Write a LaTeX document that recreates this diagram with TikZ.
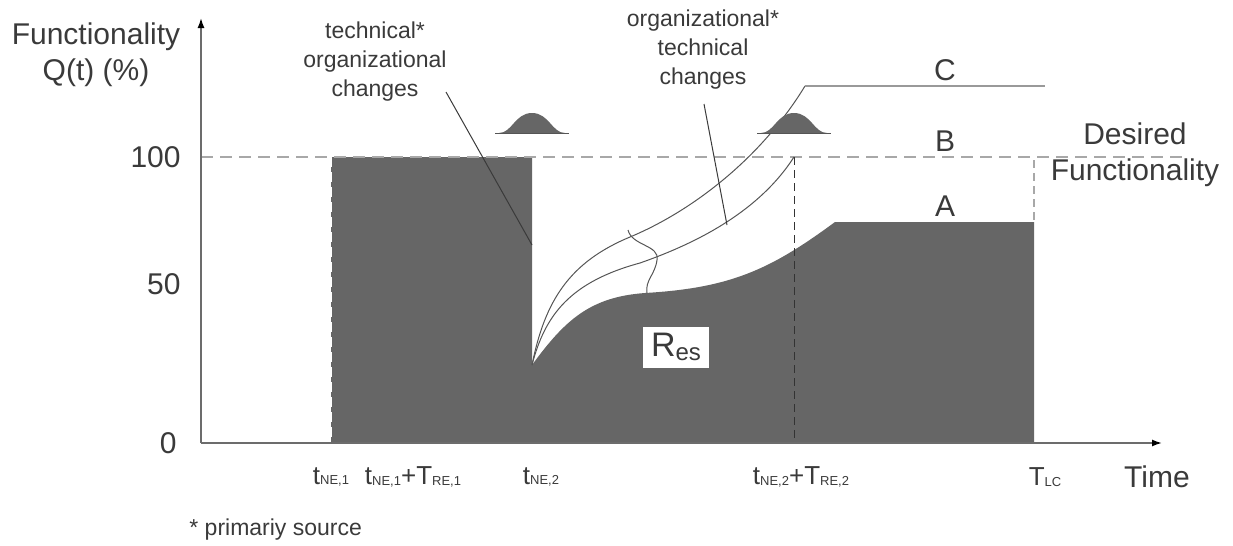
\documentclass[tikz,border=0pt]{standalone}
\usepackage{fontspec}
\setmainfont{Liberation Sans}
\usetikzlibrary{arrows.meta}
\definecolor{fillgray}{HTML}{666666}
\definecolor{dashgray}{HTML}{A8A8A8}
\definecolor{inkgray}{HTML}{3A3A3A}
\definecolor{linegray}{HTML}{555555}
\newcommand\lowidx[1]{\raisebox{-0.3pt}{\fontsize{6.5}{7}\selectfont #1}}
\tikzset{
  lbl/.style={text=inkgray,font=\fontsize{15}{18}\selectfont,inner sep=0pt,align=center},
  note/.style={text=inkgray,font=\fontsize{11.5}{14.5}\selectfont,inner sep=0pt,align=center},
  tlbl/.style={text=inkgray,font=\fontsize{13}{15}\selectfont,inner sep=0pt},
  axis/.style={draw=gray!85!black,line width=0.8pt,-{Latex[length=5pt,width=3.5pt,color=black]}},
  curve/.style={draw=linegray,line width=0.5pt},
  pointer/.style={draw=inkgray,line width=0.5pt},
  desired/.style={draw=dashgray,line width=1.3pt,dash pattern=on 6pt off 3.5pt},
}
\begin{document}
\begin{tikzpicture}[x=0.5pt,y=-0.5pt]
    \useasboundingbox (0,0) rectangle (1233,546);
    % key points
    \coordinate (O) at (201,443);
    \coordinate (drop) at (532,365);
    \coordinate (Btop) at (794,157);
    \coordinate (Ccorner) at (805,86);
    \coordinate (Cend) at (1045,86);
    % resilience area
    \fill[fillgray] (331,443) -- (331,157) -- (532,157) -- (drop)
        .. controls (565,320) and (590,297) .. (645,293)
        .. controls (730,288) and (770,270) .. (835,222)
        -- (1034,222) -- (1034,443) -- cycle;
    \draw[white,line width=0.6pt,dash pattern=on 5pt off 2.5pt] (331,157) -- (331,443);
    % desired functionality
    \draw[desired] (201,157) -- (1188,157);
    \draw[dashgray,line width=0.8pt,dash pattern=on 4pt off 2.5pt] (1034,160) -- (1034,222);
    \draw[black!80,line width=0.5pt,dash pattern=on 4pt off 2.5pt] (Btop) -- (794,443);
    % recovery curves
    \draw[curve] (drop) .. controls (545,315) and (570,282) .. (640,263)
        .. controls (700,242) and (760,210) .. (Btop);
    \draw[curve] (drop) .. controls (545,300) and (570,262) .. (630,237)
        .. controls (690,212) and (760,160) .. (Ccorner);
    \draw[gray!80,line width=1pt] (Ccorner) -- (Cend);
    \draw[curve] (628,230) .. controls (632,246) and (660,245) .. (657,260)
        .. controls (655,275) and (645,280) .. (647,293);
    % disruption bumps
    \foreach \cx in {532,794} {
        \fill[fillgray] (\cx-33,133) .. controls (\cx-20,133) and (\cx-17,113) .. (\cx,113)
            .. controls (\cx+17,113) and (\cx+20,133) .. (\cx+33,133) -- cycle;
        \draw[linegray,line width=0.5pt] (\cx-37,133) -- (\cx+37,133);
    }
    % axes
    \draw[axis] (O) -- (201,18);
    \draw[axis] (O) -- (1162,443);
    \node[lbl,anchor=center] (ylabel) at (96,55) {Functionality\\Q(t) (\%)};
    \node[lbl,anchor=east] (y100) at (181,157) {100};
    \node[lbl,anchor=east] (y50) at (181,284) {50};
    \node[lbl,anchor=east] (y0) at (177,443) {0};
    \node[lbl] (xlabel) at (1157,477) {Time};
    \node[tlbl] (tne1) at (331,477) {t\lowidx{NE,1}};
    \node[tlbl] (tre1) at (413,477) {t\lowidx{NE,1}+T\lowidx{RE,1}};
    \node[tlbl] (tne2) at (541,477) {t\lowidx{NE,2}};
    \node[tlbl] (tre2) at (801,477) {t\lowidx{NE,2}+T\lowidx{RE,2}};
    \node[tlbl] (tlc) at (1045,477) {T\lowidx{LC}};
    % curve names
    \node[lbl] (labC) at (945,70) {C};
    \node[lbl] (labB) at (945,141) {B};
    \node[lbl] (labA) at (945,206) {A};
    \node[lbl] (desiredlbl) at (1135,155) {Desired\\Functionality};
    \node[fill=white,minimum width=33pt,minimum height=20.5pt,inner sep=0pt,text=inkgray] (res) at (676,347)
        {\fontsize{17}{18}\selectfont R\raisebox{-2pt}{\fontsize{12}{13}\selectfont es}};
    % annotations
    \node[note] (techlbl) at (375,62) {technical*\\organizational\\changes};
    \node[note] (orglbl) at (703,50) {organizational*\\technical\\changes};
    \coordinate (techfrom) at (446,92);
    \coordinate (techto) at (532,245);
    \coordinate (orgfrom) at (704,104);
    \coordinate (orgto) at (727,225);
    \draw[pointer] (techfrom) -- (techto);
    \draw[pointer] (orgfrom) -- (orgto);
    \node[note,anchor=west] (source) at (189,530) {* primariy source};
\end{tikzpicture}
\end{document}
